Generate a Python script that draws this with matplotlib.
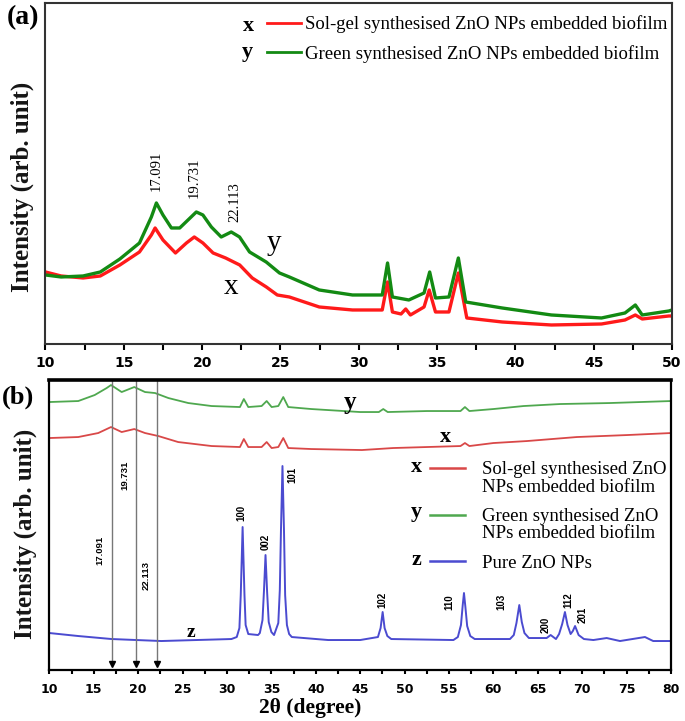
import matplotlib
matplotlib.use("Agg")
import matplotlib.pyplot as plt
from matplotlib.lines import Line2D
from matplotlib.ticker import MultipleLocator

# ---- (a) biofilms, 10-50 deg ----
theta_a_green = [10.0, 11.0, 12.4, 13.5, 14.75, 16.0, 16.76, 17.08, 17.5, 18.04, 18.57, 19.1,
                 19.63, 20.05, 20.59, 21.22, 21.86, 22.39, 23.03, 24.09, 24.94, 25.57, 27.48,
                 29.6, 31.5, 31.84, 32.15, 33.2, 34.17, 34.53, 34.9, 35.76, 36.36, 36.83,
                 39.16, 42.3, 45.5, 47.0, 47.66, 48.1, 49.8, 50.0]
int_a_green = [69, 67, 68, 72, 85, 101, 127, 141, 129, 116, 116, 124,
               132, 129, 117, 107, 112, 107, 92, 82, 71, 67, 54,
               49, 49, 81, 47, 44, 51, 72, 46, 47, 86, 42,
               36, 29, 26, 31, 39, 29, 33, 34]

theta_a_red = [10.0, 11.0, 12.4, 13.5, 14.75, 16.0, 16.76, 17.0, 17.5, 18.3, 19.0, 19.5,
               20.05, 20.7, 21.5, 22.4, 23.2, 24.1, 24.8, 25.57, 27.48, 29.6, 31.5, 31.84,
               32.15, 32.7, 33.0, 33.3, 34.17, 34.5, 34.9, 35.76, 36.36, 36.9, 39.16, 42.3,
               45.5, 47.0, 47.66, 48.1, 49.8, 50.0]
int_a_red = [72, 68, 66, 68, 79, 92, 109, 116, 104, 91, 101, 107,
             101, 91, 86, 79, 66, 57, 49, 47, 37, 34, 34, 62,
             32, 30, 35, 29, 37, 54, 32, 32, 71, 26, 22, 19,
             20, 24, 29, 25, 28, 28]

peaks_a = ["17.091", "19.731", "22.113"]

# ---- (b) biofilms + pure ZnO, 10-80 deg ----
theta_b_green = [10.0, 13.25, 15.1, 16.45, 16.94, 18.14, 19.56, 20.77, 21.9, 23.4, 25.64, 28.27,
                 31.46, 31.9, 32.4, 33.9, 34.47, 35.03, 35.78, 36.34, 36.9, 39.5, 45.0, 47.1,
                 47.6, 48.1, 52.5, 56.3, 56.8, 57.3, 60.0, 63.4, 67.5, 73.1, 80.0]
int_b_green = [268, 269, 275, 282, 285, 278, 283, 278, 277, 272, 267, 264,
               263, 271, 263, 264, 269, 263, 264, 273, 263, 261, 258, 258,
               261, 258, 259, 259, 263, 259, 261, 264, 266, 267, 269]

theta_b_red = [10.0, 13.25, 15.5, 16.94, 18.14, 19.56, 20.77, 22.27, 24.5, 28.27, 31.46, 31.9,
               32.4, 33.9, 34.47, 35.03, 35.78, 36.34, 36.9, 39.5, 45.2, 48.7, 56.3, 56.8,
               57.3, 60.0, 63.8, 69.4, 75.1, 80.0]
int_b_red = [232, 233, 237, 243, 238, 241, 237, 234, 228, 224, 223, 231,
             223, 223, 228, 222, 223, 232, 222, 221, 220, 222, 224, 227,
             224, 227, 229, 233, 235, 237]

theta_b_blue = [10.0, 13.25, 17.0, 22.6, 30.5, 31.1, 31.4, 31.55, 31.76, 31.97, 32.1, 32.4,
                33.5, 33.7, 34.0, 34.17, 34.34, 34.52, 34.7, 35.0, 35.3, 35.78, 35.95, 36.08,
                36.25, 36.42, 36.55, 36.75, 37.0, 37.3, 41.4, 45.0, 47.0, 47.3, 47.53, 47.75,
                48.06, 48.5, 55.5, 56.0, 56.35, 56.55, 56.69, 56.85, 57.05, 57.4, 57.9, 61.87,
                62.3, 62.6, 62.92, 63.2, 63.5, 64.0, 66.0, 66.45, 67.05, 67.4, 67.75, 68.06,
                68.35, 68.7, 68.95, 69.2, 69.6, 70.2, 71.26, 72.76, 74.26, 77.07, 78.0, 80.0]
int_b_blue = [37, 34, 31, 29, 31, 33, 42, 75, 143, 75, 45, 36,
              35, 37, 50, 80, 115, 78, 48, 38, 35, 47, 80, 140,
              204, 140, 75, 45, 36, 33, 30, 30, 33, 42, 58, 42,
              34, 31, 30, 33, 45, 65, 77, 63, 44, 34, 31, 31,
              35, 47, 65, 48, 37, 32, 32, 35, 31, 36, 46, 58,
              45, 36, 39, 44, 35, 31, 30, 32, 29, 33, 29, 29]

hkl_labels = ["100", "002", "101", "102", "110", "103", "200", "112", "201"]
arrow_theta = [17.091, 19.731, 22.113]

legend_labels = ["Sol-gel synthesised ZnO NPs embedded biofilm",
                 "Green synthesised ZnO NPs embedded biofilm"]
legend_b_first = ["Sol-gel synthesised ZnO", "Green synthesised ZnO", "Pure ZnO NPs"]
legend_b_second = ["NPs embedded biofilm", "NPs embedded biofilm"]

SERIF = "Liberation Serif"
plt.rcParams["font.family"] = ["DejaVu Sans"]

fig = plt.figure(figsize=(6.85, 7.21), dpi=100)
ax1 = fig.add_axes([0.0664, 0.5229, 0.9146, 0.4730])
ax2 = fig.add_axes([0.0721, 0.0707, 0.9074, 0.4022])

# ---------- panel (a) ----------
ax1.plot(theta_a_red, int_a_red, color="#ff1a1a", lw=2.4)
ax1.plot(theta_a_green, int_a_green, color="#138a13", lw=2.4)
ax1.set_xlim(10, 50)
ax1.set_ylim(0, 341)
ax1.set_yticks([])
ax1.xaxis.set_major_locator(MultipleLocator(5))
ax1.xaxis.set_minor_locator(MultipleLocator(2.5))
ax1.tick_params(axis="x", which="major", length=4, width=1.5, pad=5, labelsize=10)
ax1.tick_params(axis="x", which="minor", length=4, width=1.5)
for lb in ax1.get_xticklabels():
    lb.set_fontweight("bold")
for sp in ax1.spines.values():
    sp.set_color("#333333")
    sp.set_linewidth(1.5)

for txt, x, y in zip(peaks_a, [17.08, 19.5, 22.1], [173, 166, 142]):
    ax1.text(x, y, txt, rotation=90, ha="center", va="center", family=SERIF, fontsize=10.5)
ax1.text(24.6, 101, "y", ha="center", va="center", family=SERIF, fontsize=21)
ax1.text(21.85, 57, "x", ha="center", va="center", family=SERIF, fontsize=21)

ha = [Line2D([], [], color="#ff1a1a", lw=2), Line2D([], [], color="#138a13", lw=2)]
ax1.legend(ha, legend_labels, loc="upper left", bbox_to_anchor=(0.3536, 0.963),
           frameon=False, borderpad=0, borderaxespad=0, handlelength=1.8,
           handletextpad=0.25, labelspacing=0.6, prop={"family": SERIF, "size": 13.5})
ax1.text(0.324, 0.933, "x", transform=ax1.transAxes, ha="center", va="center",
         family=SERIF, fontsize=16, fontweight="bold")
ax1.text(0.322, 0.855, "y", transform=ax1.transAxes, ha="center", va="center",
         family=SERIF, fontsize=16, fontweight="bold")

# ---------- panel (b) ----------
ax2.plot(theta_b_green, int_b_green, color="#4fa84f", lw=1.3)
ax2.plot(theta_b_red, int_b_red, color="#d94848", lw=1.3)
ax2.plot(theta_b_blue, int_b_blue, color="#4b4bd0", lw=1.4)
ax2.set_xlim(10, 80)
ax2.set_ylim(0, 290)
ax2.set_yticks([])
ax2.xaxis.set_major_locator(MultipleLocator(5))
ax2.xaxis.set_minor_locator(MultipleLocator(2.5))
ax2.tick_params(axis="x", which="major", length=3, width=1.5, pad=6, labelsize=9)
ax2.tick_params(axis="x", which="minor", length=3, width=1.5)
for lb in ax2.get_xticklabels():
    lb.set_fontweight("bold")
for sp in ax2.spines.values():
    sp.set_color("black")
    sp.set_linewidth(1.6)
ax2.spines["top"].set_linewidth(2.6)

# arrows marking the biofilm peaks
ax2.vlines(arrow_theta, 8, 290, color="#777777", lw=1.0)
ax2.plot(arrow_theta, [6] * len(arrow_theta), "v", color="black", ms=4.5)
for val, x, y in zip(arrow_theta, [15.7, 18.5, 20.95], [120, 195, 95]):
    ax2.text(x, y, f"{val:.3f}", rotation=90, ha="center", va="center",
             fontsize=6.8, fontweight="bold", family="Liberation Sans")

hkl_pos = [(31.65, 157), (34.35, 128), (37.4, 195), (47.5, 70), (55.1, 68),
           (60.9, 68), (65.9, 45), (68.4, 70), (70.05, 55)]
for lab, (x, y) in zip(hkl_labels, hkl_pos):
    ax2.text(x, y, lab, rotation=90, ha="center", va="center",
             fontsize=7, fontweight="bold", family="Liberation Sans")

ax2.text(43.8, 268, "y", ha="center", va="center", family=SERIF, fontsize=18, fontweight="bold")
ax2.text(54.6, 233, "x", ha="center", va="center", family=SERIF, fontsize=16, fontweight="bold")
ax2.text(25.9, 38, "z", ha="center", va="center", family=SERIF, fontsize=14, fontweight="bold")

hb = [Line2D([], [], color="#d94848", lw=1.8),
      Line2D([], [], color="#4fa84f", lw=1.8),
      Line2D([], [], color="#4b4bd0", lw=1.8)]
ax2.legend(hb, legend_b_first, loc="upper left", bbox_to_anchor=(0.612, 0.72),
           frameon=False, borderpad=0, borderaxespad=0, handlelength=1.9,
           handletextpad=0.9, labelspacing=1.58, prop={"family": SERIF, "size": 13.5})
for txt, yy in zip(legend_b_second, [0.631, 0.472]):
    ax2.text(0.6955, yy, txt, transform=ax2.transAxes, ha="left", va="center",
             family=SERIF, fontsize=13.5)
for lab, yy in zip(["x", "y", "z"], [0.701, 0.545, 0.379]):
    ax2.text(0.591, yy, lab, transform=ax2.transAxes, ha="center", va="center",
             family=SERIF, fontsize=16, fontweight="bold")

# ---------- figure texts ----------
fig.text(0.0336, 0.975, "(a)", ha="center", va="center", family=SERIF, fontsize=20, fontweight="bold")
fig.text(0.026, 0.449, "(b)", ha="center", va="center", family=SERIF, fontsize=19, fontweight="bold")
fig.text(0.032, 0.741, "Intensity (arb. unit)", rotation=90, ha="center", va="center",
         family=SERIF, fontsize=18, fontweight="bold", color="#151515")
fig.text(0.0365, 0.2594, "Intensity (arb. unit)", rotation=90, ha="center", va="center",
         family=SERIF, fontsize=18, fontweight="bold", color="#151515")
fig.text(0.4526, 0.018, "2θ (degree)", ha="center", va="center",
         family=SERIF, fontsize=15.5, fontweight="bold")

fig.savefig("out.png", dpi=100)
